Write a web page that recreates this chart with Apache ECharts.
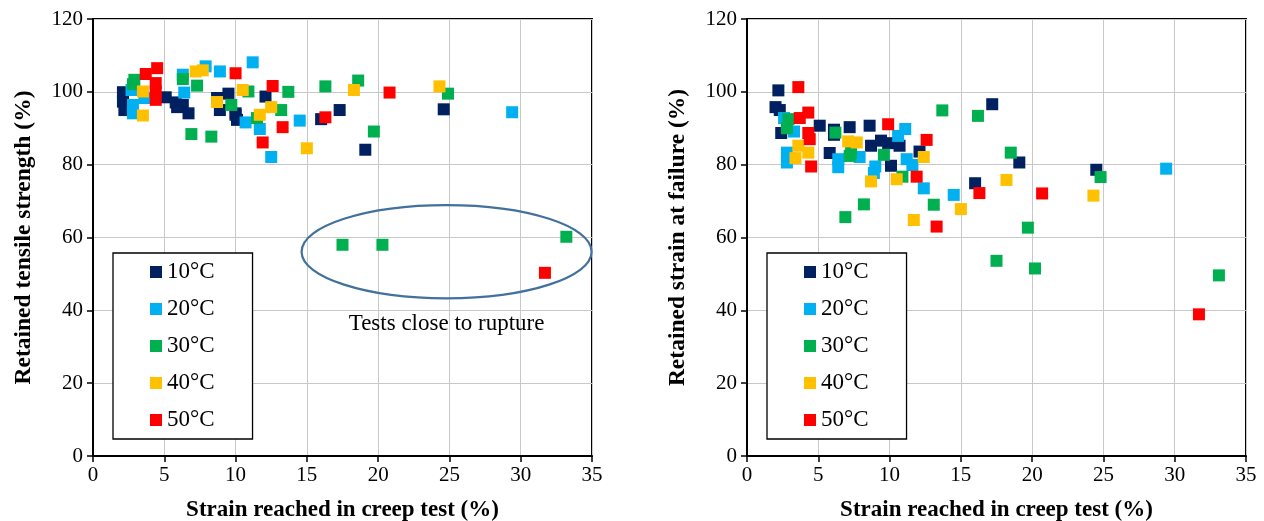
<!DOCTYPE html>
<html>
<head>
<meta charset="utf-8">
<script src="https://cdn.jsdelivr.net/npm/echarts@6/dist/echarts.min.js"></script>
<style>
html,body{margin:0;padding:0;background:#fff;}
#c{width:1264px;height:521px;}
</style>
</head>
<body>
<div id="c"></div>
<script>
// ---------- DATA ----------
const seriesNames = ['10°C', '20°C', '30°C', '40°C', '50°C'];
const xTicks = [0, 5, 10, 15, 20, 25, 30, 35];
const yTicks = [0, 20, 40, 60, 80, 100, 120];

// Left chart: retained tensile strength (%) vs strain reached in creep test (%)
const strength10 = [[2.1,99.9],[2.1,97.3],[2.2,95.0],[5.1,98.5],[5.8,97.1],[5.9,95.8],[6.3,96.4],[6.7,94.1],[8.7,98.3],[9.5,99.5],[8.9,95.0],[10.0,94.1],[10.0,93.7],[10.1,92.3],[12.1,98.7],[16.0,92.5],[17.3,95.0],[19.1,84.1],[24.6,95.2]];
const strength20 = [[2.7,100.5],[3.6,98.3],[2.8,96.4],[2.8,94.1],[6.4,99.8],[6.3,104.7],[7.9,107.0],[8.9,105.6],[11.2,108.1],[10.7,91.6],[11.7,89.8],[14.5,92.1],[12.5,82.1],[29.4,94.4]];
const strength30 = [[2.9,103.3],[2.8,102.1],[6.3,103.5],[7.3,101.7],[9.7,96.4],[10.9,100.1],[13.7,100.0],[13.2,95.0],[11.5,92.8],[6.9,88.4],[8.3,87.7],[16.3,101.5],[18.6,103.1],[24.9,99.5],[19.7,89.1],[17.5,58.0],[20.3,58.0],[33.2,60.2]];
const strength40 = [[3.5,100.1],[3.5,93.5],[7.2,105.6],[7.7,105.9],[8.7,97.2],[10.5,100.5],[12.5,95.8],[11.7,93.7],[15.0,84.5],[18.3,100.5],[24.3,101.5]];
const strength50 = [[4.5,106.5],[3.7,104.9],[4.4,102.4],[4.4,100.1],[4.4,97.8],[10.0,105.1],[12.6,101.6],[13.3,90.3],[11.9,86.1],[16.3,93.0],[20.8,99.8],[31.7,50.3]];

// Right chart: retained strain at failure (%) vs strain reached in creep test (%)
const strain10 = [[2.2,100.4],[2.0,95.8],[2.3,95.0],[2.4,88.7],[5.1,90.7],[6.1,89.6],[6.1,88.2],[7.2,90.3],[8.6,90.7],[8.7,85.2],[9.4,86.6],[9.9,85.9],[10.7,85.2],[5.8,83.2],[12.1,83.6],[10.1,79.7],[16.0,74.9],[17.2,96.6],[19.1,80.6],[24.5,78.6]];
const strain20 = [[2.6,92.8],[3.3,89.1],[2.8,83.3],[2.8,80.6],[6.4,81.5],[6.4,79.3],[7.9,82.1],[9.0,79.5],[8.9,77.7],[11.1,89.8],[10.6,87.9],[11.2,81.5],[11.6,79.9],[12.4,73.5],[14.5,71.7],[29.4,78.9]];
const strain30 = [[2.9,92.5],[2.8,90.0],[6.2,88.8],[7.2,82.4],[7.3,83.2],[9.6,82.7],[10.9,76.7],[13.7,94.9],[16.2,93.4],[6.9,65.6],[8.2,69.1],[13.1,69.0],[18.5,83.3],[19.7,62.7],[17.5,53.6],[20.2,51.5],[24.8,76.6],[33.1,49.6]];
const strain40 = [[3.6,85.2],[4.3,83.3],[3.4,81.8],[7.1,86.4],[7.7,86.1],[8.7,75.4],[10.5,76.0],[12.4,82.1],[11.7,64.8],[15.0,67.8],[18.2,75.8],[24.3,71.5]];
const strain50 = [[3.6,101.3],[3.7,92.8],[4.3,94.3],[4.3,88.7],[4.4,87.0],[4.5,79.5],[9.9,91.1],[12.6,86.8],[11.9,76.7],[16.3,72.2],[13.3,63.0],[20.7,72.1],[31.7,38.9]];

const xTitle = 'Strain reached in creep test (%)';
const yTitleLeft = 'Retained tensile strength (%)';
const yTitleRight = 'Retained strain at failure (%)';
const noteText = 'Tests close to rupture';

// ---------- STYLE / LAYOUT ----------
const colors = ['#002060', '#00B0F0', '#00B050', '#FFC000', '#FF0000'];
const FONT = '"Liberation Serif", "Times New Roman", serif';
// annotation ellipse in data units (left chart)
const ellipseSpec = { cx: 24.8, cy: 56.1, rx: 10.17, ry: 12.8 };
const noteSpec = { x: 24.8, y: 36.3 };

const chart = echarts.init(document.getElementById('c'), null, { renderer: 'canvas' });

function makeX(gridIndex) {
  return {
    type: 'value', gridIndex: gridIndex,
    min: xTicks[0], max: xTicks[xTicks.length - 1], interval: 5,
    name: xTitle, nameLocation: 'middle', nameGap: 43,
    nameTextStyle: { fontFamily: FONT, fontSize: 23, fontWeight: 'bold', color: '#000' },
    axisLine: { show: true, onZero: false, lineStyle: { color: '#000', width: 2 } },
    axisTick: { show: true, inside: false, length: 6, lineStyle: { color: '#000', width: 1.5 } },
    axisLabel: { fontFamily: FONT, fontSize: 21, color: '#000', margin: 9 },
    splitLine: { show: true, lineStyle: { color: '#C8C8C8', width: 1 } }
  };
}
function makeY(gridIndex, title) {
  return {
    type: 'value', gridIndex: gridIndex,
    min: yTicks[0], max: yTicks[yTicks.length - 1], interval: 20,
    name: title, nameLocation: 'middle', nameGap: 57, nameRotate: 90,
    nameTextStyle: { fontFamily: FONT, fontSize: 23.5, fontWeight: 'bold', color: '#000' },
    axisLine: { show: true, onZero: false, lineStyle: { color: '#000', width: 2 } },
    axisTick: { show: true, inside: false, length: 6, lineStyle: { color: '#000', width: 1.5 } },
    axisLabel: { fontFamily: FONT, fontSize: 21, color: '#000', margin: 10 },
    splitLine: { show: true, lineStyle: { color: '#C8C8C8', width: 1 } }
  };
}
function makeLegend(left) {
  return {
    orient: 'vertical', left: left, top: 253,
    data: seriesNames, icon: 'rect', itemWidth: 12, itemHeight: 12, itemGap: 13,
    padding: [7, 38, 7, 37],
    borderColor: '#000', borderWidth: 1.3, backgroundColor: '#fff',
    textStyle: { fontFamily: FONT, fontSize: 23, lineHeight: 24, color: '#000' },
    selectedMode: false
  };
}

const leftData = [strength10, strength20, strength30, strength40, strength50];
const rightData = [strain10, strain20, strain30, strain40, strain50];
const series = [];
[leftData, rightData].forEach(function (set, gi) {
  set.forEach(function (d, i) {
    series.push({
      name: seriesNames[i], type: 'scatter', xAxisIndex: gi, yAxisIndex: gi,
      data: d, symbol: 'rect', symbolSize: 12,
      itemStyle: { color: colors[i], opacity: 1 },
      emphasis: { disabled: true }, animation: false
    });
  });
});

chart.setOption({
  animation: false,
  color: colors,
  grid: [
    { left: 93, right: 672, top: 19, bottom: 65, containLabel: false, outerBoundsMode: 'none', show: true, borderColor: '#000', borderWidth: 2, backgroundColor: 'transparent' },
    { left: 747, right: 18, top: 19, bottom: 65, containLabel: false, outerBoundsMode: 'none', show: true, borderColor: '#000', borderWidth: 2, backgroundColor: 'transparent' }
  ],
  xAxis: [makeX(0), makeX(1)],
  yAxis: [makeY(0, yTitleLeft), makeY(1, yTitleRight)],
  legend: [makeLegend(113), makeLegend(767)],
  series: series
});

// annotation placed through the left chart's own scales
const c = chart.convertToPixel({ xAxisIndex: 0, yAxisIndex: 0 }, [ellipseSpec.cx, ellipseSpec.cy]);
const e = chart.convertToPixel({ xAxisIndex: 0, yAxisIndex: 0 }, [ellipseSpec.cx + ellipseSpec.rx, ellipseSpec.cy + ellipseSpec.ry]);
const n = chart.convertToPixel({ xAxisIndex: 0, yAxisIndex: 0 }, [noteSpec.x, noteSpec.y]);
chart.setOption({
  graphic: [
    { type: 'ellipse', shape: { cx: c[0], cy: c[1], rx: e[0] - c[0], ry: c[1] - e[1] },
      style: { fill: 'none', stroke: '#41719C', lineWidth: 2.2 }, z: 100, silent: true },
    { type: 'text', x: n[0], y: n[1],
      style: { text: noteText, font: '23px ' + FONT, fill: '#000', align: 'center', verticalAlign: 'middle' }, z: 100, silent: true }
  ]
});
</script>
</body>
</html>
